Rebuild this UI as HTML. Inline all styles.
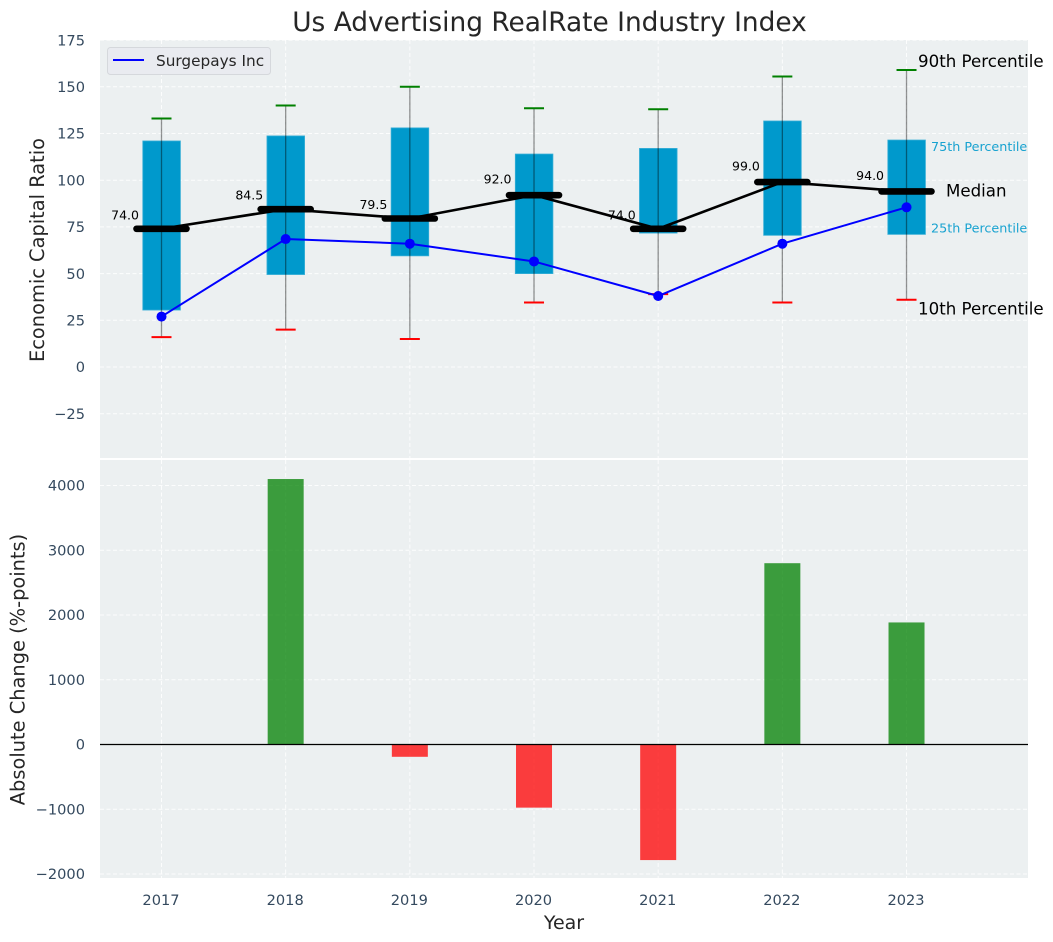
<!DOCTYPE html>
<html lang="en">
<head>
<meta charset="utf-8">
<title>Us Advertising RealRate Industry Index</title>
<style>
html,body{margin:0;padding:0;background:#fff;}
svg{display:block;font-family:"DejaVu Sans","Liberation Sans",sans-serif;}
</style>
</head>
<body>
<svg id="chart" xmlns="http://www.w3.org/2000/svg" width="1053" height="942" viewBox="0 0 1053 942"></svg>
<script>
const years = [2017, 2018, 2019, 2020, 2021, 2022, 2023];
const p90Values = [133, 140, 150, 138.5, 138, 155.5, 159];
const p75Values = [121, 123.7, 128, 114, 117, 131.7, 121.5];
const medianValues = [74, 84.5, 79.5, 92, 74, 99, 94];
const p25Values = [30.5, 49.5, 59.5, 50, 71.7, 70.5, 71];
const p10Values = [16, 20, 15, 34.5, 39, 34.5, 36];
const companyValues = [27, 68.5, 66, 56.5, 38, 66, 85.5];
const changeValues = [0, 4100, -190, -975, -1785, 2800, 1885];
const topTicks = [175, 150, 125, 100, 75, 50, 25, 0, -25];
const bottomTicks = [4000, 3000, 2000, 1000, 0, -1000, -2000];

const NS = 'http://www.w3.org/2000/svg';
const svg = document.getElementById('chart');
const LEFT = 100, RIGHT = 1028;
const xPos = v => 161.5 + (v - 2017) * 124.17;
const yTop = v => 367 - v * 1.868;
const yBottom = v => 744.5 - v * 0.06475;
const fmtTick = v => (v < 0 ? '\u2212' + Math.abs(v) : String(v));

function make(tag, props, text) {
  const el = document.createElementNS(NS, tag);
  for (const k in props) el.setAttribute(k, props[k]);
  if (text !== undefined) el.textContent = text;
  svg.appendChild(el);
  return el;
}

let el;

el = make('rect', {x: LEFT, y: 40, width: RIGHT - LEFT, height: 418, fill: '#ecf0f1'});



el = make('rect', {x: LEFT, y: 460, width: RIGHT - LEFT, height: 418, fill: '#ecf0f1'});



const gridStyle = {stroke: '#ffffff', 'stroke-width': 1, 'stroke-dasharray': '4 2.5', 'stroke-opacity': 0.85};

topTicks.forEach(t => {
  const y = yTop(t);
  let g = make('line', Object.assign({x1: LEFT, x2: RIGHT, y1: y, y2: y}, gridStyle));
  
  
  let l = make('text', {x: 85, y: y + 5.2, 'text-anchor': 'end', 'font-size': 14.6, fill: '#34495e'}, fmtTick(t));
  
  
});

bottomTicks.forEach(t => {
  const y = yBottom(t);
  let g = make('line', Object.assign({x1: LEFT, x2: RIGHT, y1: y, y2: y}, gridStyle));
  
  
  let l = make('text', {x: 85, y: y + 5.2, 'text-anchor': 'end', 'font-size': 14.6, fill: '#34495e'}, fmtTick(t));
  
  
});

years.forEach(yr => {
  const x = xPos(yr);
  let a = make('line', Object.assign({x1: x, x2: x, y1: 40, y2: 458}, gridStyle));
  
  
  let b = make('line', Object.assign({x1: x, x2: x, y1: 460, y2: 878}, gridStyle));
  
  
  let l = make('text', {x: x - 0.5, y: 905, 'text-anchor': 'middle', 'font-size': 14.6, fill: '#34495e'}, String(yr));
  
  
});

/* Interquartile boxes */
years.forEach((yr, i) => {
  const x = xPos(yr), t = yTop(p75Values[i]), b = yTop(p25Values[i]);
  let r = make('rect', {x: x - 18.7, y: t, width: 37.6, height: b - t, fill: '#0099cc', stroke: '#35aed6', 'stroke-width': 0.8});
  
  
});

/* Whiskers and caps */
years.forEach((yr, i) => {
  const x = xPos(yr), t = yTop(p90Values[i]), b = yTop(p10Values[i]);
  let w = make('line', {x1: x, x2: x, y1: t, y2: b, stroke: '#000000', 'stroke-opacity': 0.42, 'stroke-width': 1.3});
  
  
  let c1 = make('line', {x1: x - 10, x2: x + 10, y1: t, y2: t, stroke: '#008000', 'stroke-width': 2});
  
  
  let c2 = make('line', {x1: x - 10, x2: x + 10, y1: b, y2: b, stroke: '#ff0000', 'stroke-width': 2});
  
  
});

/* Median connecting line */
el = make('polyline', {points: years.map((yr, i) => xPos(yr) + ',' + yTop(medianValues[i])).join(' '), fill: 'none', stroke: '#000000', 'stroke-width': 2.6});



/* Median bars and value labels */
years.forEach((yr, i) => {
  const x = xPos(yr), y = yTop(medianValues[i]);
  let m = make('line', {x1: x - 25, x2: x + 25, y1: y, y2: y, stroke: '#000000', 'stroke-width': 6.6, 'stroke-linecap': 'round'});
  
  
  const lift = medianValues[i] > 90 ? 11.5 : 9.5;
  let l = make('text', {x: x - 22.5, y: y - lift, 'text-anchor': 'end', 'font-size': 12.5, fill: '#000000'}, medianValues[i].toFixed(1));
  
  
});

/* Company series */
el = make('polyline', {points: years.map((yr, i) => xPos(yr) + ',' + yTop(companyValues[i])).join(' '), fill: 'none', stroke: '#0000ff', 'stroke-width': 2});



years.forEach((yr, i) => {
  let p = make('circle', {cx: xPos(yr), cy: yTop(companyValues[i]), r: 5, fill: '#0000ff'});
  
  
});

/* Percentile annotations tied to the last year */
const lastIdx = years.length - 1;
const lastX = xPos(years[lastIdx]);

el = make('text', {x: lastX + 11.5, y: yTop(p90Values[lastIdx]) - 3, 'font-size': 16.65, fill: '#000000'}, '90th Percentile');



el = make('text', {x: lastX + 24.5, y: yTop(p75Values[lastIdx]) + 11, 'font-size': 12.75, fill: '#0099cc', 'fill-opacity': 0.9}, '75th Percentile');



el = make('text', {x: lastX + 39.5, y: yTop(medianValues[lastIdx]) + 5, 'font-size': 16.65, fill: '#000000'}, 'Median');



el = make('text', {x: lastX + 24.5, y: yTop(p25Values[lastIdx]) - 2, 'font-size': 12.75, fill: '#0099cc', 'fill-opacity': 0.9}, '25th Percentile');



el = make('text', {x: lastX + 11.5, y: yTop(p10Values[lastIdx]) + 14.5, 'font-size': 16.65, fill: '#000000'}, '10th Percentile');



/* Change bars */
years.forEach((yr, i) => {
  const v = changeValues[i];
  if (v === 0) return;
  const x = xPos(yr), a = yBottom(v), b = yBottom(0);
  let r = make('rect', {x: x - 18, y: Math.min(a, b), width: 36, height: Math.abs(b - a), fill: v > 0 ? '#008000' : '#ff0000', 'fill-opacity': 0.75});
  
  
});

el = make('line', {x1: LEFT, x2: RIGHT, y1: yBottom(0), y2: yBottom(0), stroke: '#000000', 'stroke-width': 1.3});



/* Legend */
el = make('rect', {x: 107.5, y: 47.5, width: 163, height: 27, rx: 3, fill: '#e9ebf0', stroke: '#d5d8dc', 'stroke-width': 1});



el = make('line', {x1: 113, x2: 144, y1: 60, y2: 60, stroke: '#0000ff', 'stroke-width': 2});



el = make('text', {x: 156, y: 66, 'font-size': 15.3, fill: '#262626'}, 'Surgepays Inc');



/* Titles */
el = make('text', {x: 549.5, y: 31, 'text-anchor': 'middle', 'font-size': 26.4, fill: '#262626'}, 'Us Advertising RealRate Industry Index');



el = make('text', {x: 564, y: 929, 'text-anchor': 'middle', 'font-size': 19, fill: '#262626'}, 'Year');



el = make('text', {transform: 'translate(44 250) rotate(-90)', 'text-anchor': 'middle', 'font-size': 19.4, fill: '#262626'}, 'Economic Capital Ratio');



el = make('text', {transform: 'translate(24.5 669.5) rotate(-90)', 'text-anchor': 'middle', 'font-size': 19.4, fill: '#262626'}, 'Absolute Change (%-points)');


</script>
</body>
</html>
